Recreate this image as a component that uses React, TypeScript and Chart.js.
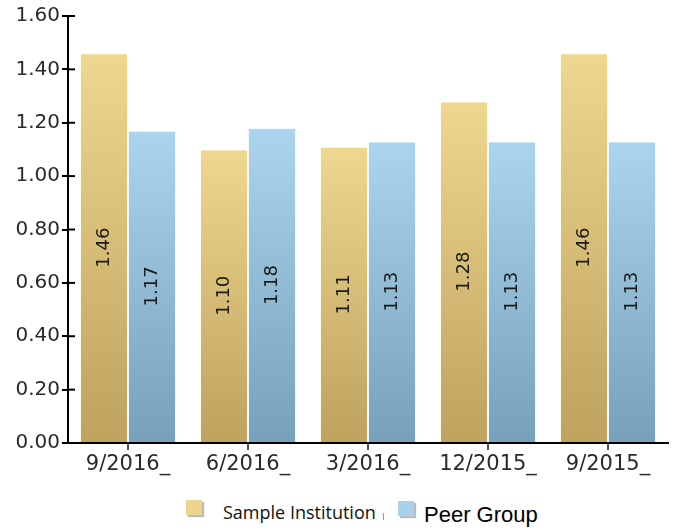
import React, { useEffect, useRef } from "react";
import { Chart, registerables } from "chart.js";

Chart.register(...registerables);

const categories = ["9/2016_", "6/2016_", "3/2016_", "12/2015_", "9/2015_"];
const sampleInstitution = [1.46, 1.1, 1.11, 1.28, 1.46];
const peerGroup = [1.17, 1.18, 1.13, 1.13, 1.13];
const seriesNames = ["Sample Institution", "Peer Group"];
const yMin = 0;
const yMax = 1.6;
const yStep = 0.2;

const gradientFill = (top: string, bottom: string) => (ctx: any) => {
  const chart = ctx.chart;
  const area = chart.chartArea;
  if (!area || ctx.raw === undefined) return bottom;
  const yScale = chart.scales.y;
  const yTop = yScale.getPixelForValue(ctx.raw);
  const yBot = yScale.getPixelForValue(0);
  const g = chart.ctx.createLinearGradient(0, yTop, 0, yBot);
  g.addColorStop(0, top);
  g.addColorStop(1, bottom);
  return g;
};

const extrasPlugin = {
  id: "extras",
  afterDatasetsDraw(chart: any) {
    const ctx = chart.ctx;
    const yScale = chart.scales.y;
    ctx.save();
    ctx.strokeStyle = "#000";
    ctx.lineWidth = 2;
    const x0 = chart.chartArea.left;
    yScale.ticks.forEach((t: any) => {
      const y = yScale.getPixelForValue(t.value);
      ctx.beginPath();
      ctx.moveTo(x0, y);
      ctx.lineTo(x0 + 7, y);
      ctx.stroke();
    });
    ctx.restore();
    ctx.save();
    ctx.fillStyle = "#1a1a1a";
    ctx.font = "18px 'DejaVu Sans'";
    ctx.textAlign = "center";
    ctx.textBaseline = "middle";
    chart.data.datasets.forEach((ds: any, i: number) => {
      const meta = chart.getDatasetMeta(i);
      meta.data.forEach((bar: any, j: number) => {
        const v = ds.data[j];
        const cy = (bar.y + bar.base) / 2;
        ctx.save();
        ctx.translate(bar.x, cy);
        ctx.rotate(-Math.PI / 2);
        ctx.fillText(v.toFixed(2), 0, 0);
        ctx.restore();
      });
    });
    ctx.restore();
  },
};

export default function App() {
  const ref = useRef<HTMLCanvasElement>(null);
  useEffect(() => {
    if (!ref.current) return;
    const chart = new Chart(ref.current, {
      type: "bar",
      data: {
        labels: categories,
        datasets: [
          {
            label: seriesNames[0],
            data: sampleInstitution,
            backgroundColor: gradientFill("#EED78E", "#BEA25E"),
            borderColor: "rgba(255,250,230,0.6)",
            borderWidth: 1,
          },
          {
            label: seriesNames[1],
            data: peerGroup,
            backgroundColor: gradientFill("#ABD4EE", "#77A1BB"),
            borderColor: "rgba(230,245,255,0.6)",
            borderWidth: 1,
          },
        ],
      },
      options: {
        animation: false,
        responsive: true,
        maintainAspectRatio: false,
        layout: { padding: { left: 0, right: 11, top: 16, bottom: 0 } },
        datasets: { bar: { categoryPercentage: 0.8, barPercentage: 1 } },
        plugins: { legend: { display: false }, tooltip: { enabled: false } },
        scales: {
          x: {
            grid: {
              display: true,
              drawOnChartArea: false,
              drawTicks: true,
              tickLength: 7,
              offset: false,
              color: "#555",
              lineWidth: 2,
            },
            border: { display: true, color: "#000", width: 2 },
            ticks: {
              color: "#2a2a2a",
              font: { family: "'DejaVu Sans'", size: 21 },
              padding: 2,
              maxRotation: 0,
              autoSkip: false,
            },
            afterFit: (s: any) => {
              s.height = 37;
            },
          },
          y: {
            min: yMin,
            max: yMax,
            ticks: {
              stepSize: yStep,
              color: "#2a2a2a",
              font: { family: "'DejaVu Sans'", size: 20 },
              padding: 2,
              callback: (v: any) => Number(v).toFixed(2),
            },
            grid: {
              display: true,
              drawOnChartArea: false,
              drawTicks: true,
              tickLength: 6,
              color: "#000",
              lineWidth: 2,
            },
            border: { display: true, color: "#000", width: 2 },
            afterFit: (s: any) => {
              s.width = 68;
            },
          },
        },
      },
      plugins: [extrasPlugin],
    });
    return () => chart.destroy();
  }, []);

  const swatch = (c: string): React.CSSProperties => ({
    position: "absolute",
    width: 16,
    height: 15,
    background: c,
    boxShadow: "2px 2px 1px #bbb",
  });

  return (
    <div style={{ position: "absolute", left: 0, top: 0, width: 679, height: 531, background: "#fff" }}>
      <div style={{ position: "absolute", left: 0, top: 0, width: 679, height: 480 }}>
        <canvas ref={ref} />
      </div>
      <div style={{ ...swatch("#EDD68C"), left: 186, top: 500 }} />
      <div
        style={{
          position: "absolute",
          left: 223,
          top: 501,
          fontFamily: "'Open Sans', 'Noto Sans', sans-serif",
          fontSize: 18,
          color: "#111",
          whiteSpace: "nowrap",
          lineHeight: "22px",
        }}
      >
        {seriesNames[0]}
      </div>
      <div style={{ position: "absolute", left: 383, top: 513, width: 1, height: 7, background: "#999" }} />
      <div style={{ ...swatch("#A8D2EC"), left: 398, top: 501 }} />
      <div
        style={{
          position: "absolute",
          left: 424,
          top: 502,
          fontFamily: "'Liberation Sans', Arial, sans-serif",
          fontSize: 22,
          color: "#000",
          whiteSpace: "nowrap",
          lineHeight: "25px",
        }}
      >
        {seriesNames[1]}
      </div>
    </div>
  );
}
